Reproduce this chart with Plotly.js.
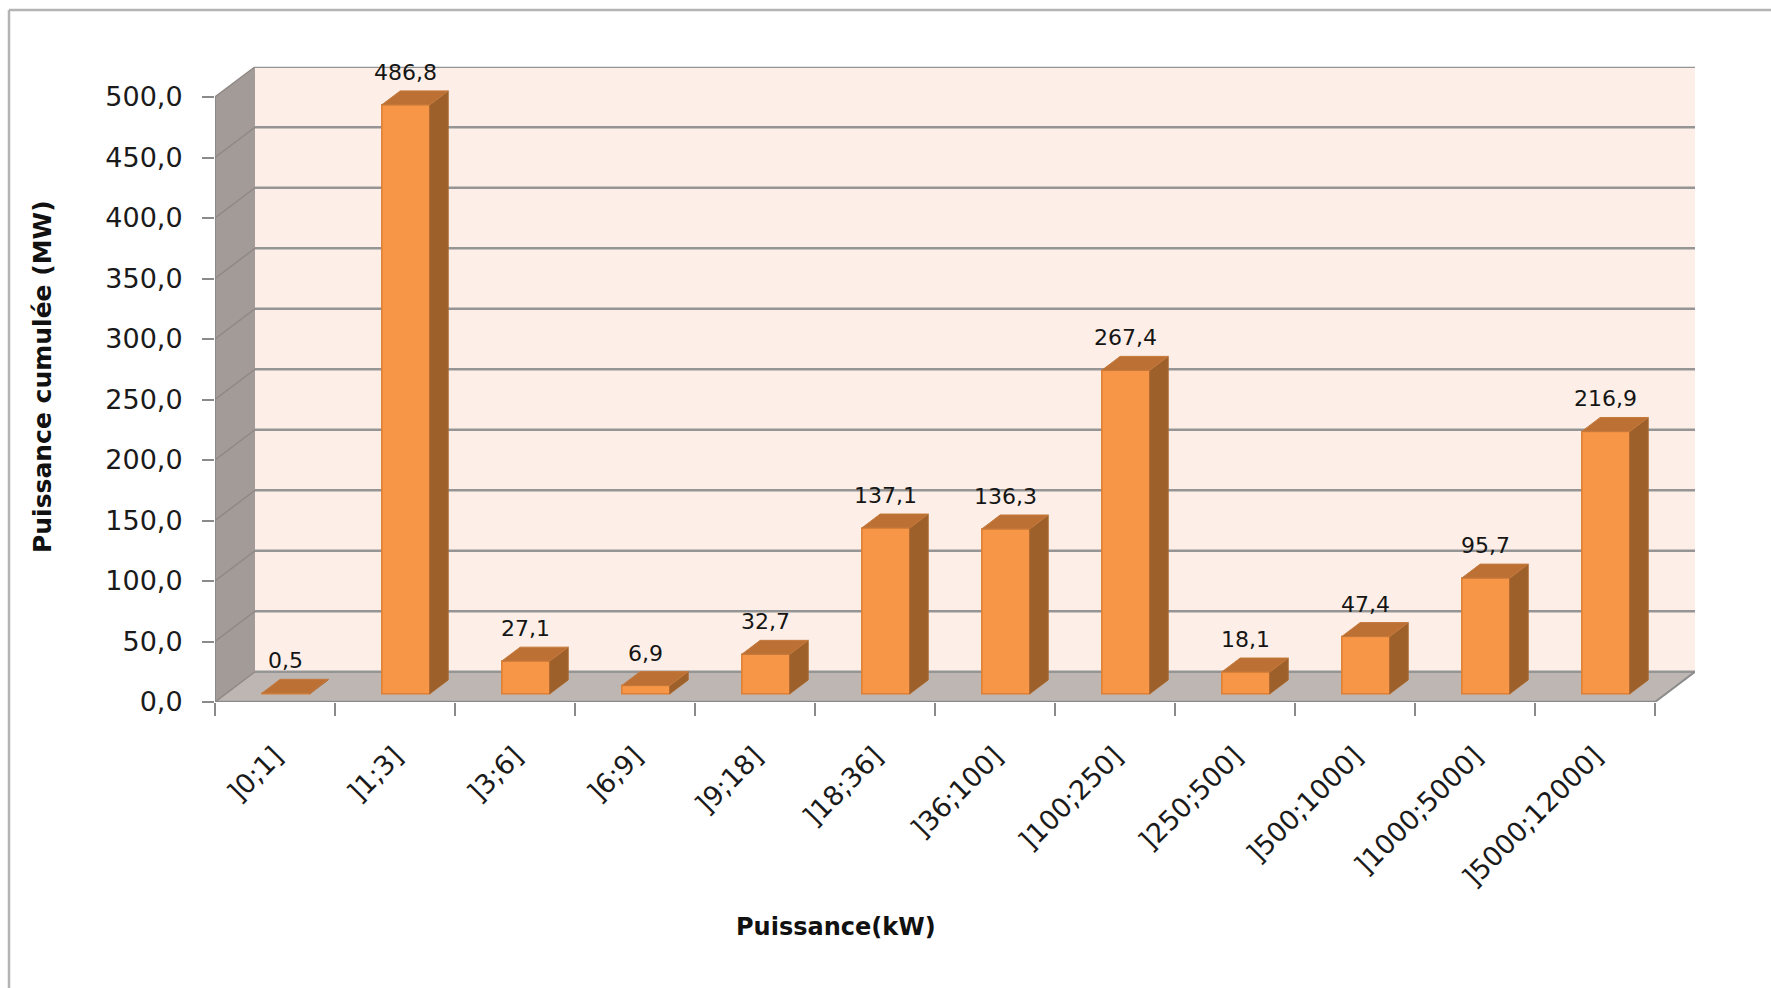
<!DOCTYPE html>
<html><head><meta charset="utf-8">
<script src="https://cdn.plot.ly/plotly-3.0.1.min.js"></script>
<style>html,body{margin:0;padding:0;background:#fff}#chart{width:1771px;height:988px}</style>
</head><body><div id="chart"></div>
<script>
// ---- data ----
const categories = [']0;1]', ']1;3]', ']3;6]', ']6;9]', ']9;18]', ']18;36]', ']36;100]', ']100;250]', ']250;500]', ']500;1000]', ']1000;5000]', ']5000;12000]'];
const values = [0.5, 486.8, 27.1, 6.9, 32.7, 137.1, 136.3, 267.4, 18.1, 47.4, 95.7, 216.9];
const valueLabels = ['0,5', '486,8', '27,1', '6,9', '32,7', '137,1', '136,3', '267,4', '18,1', '47,4', '95,7', '216,9'];
const yTickVals = [0, 50, 100, 150, 200, 250, 300, 350, 400, 450, 500];
const yTickText = ['0,0', '50,0', '100,0', '150,0', '200,0', '250,0', '300,0', '350,0', '400,0', '450,0', '500,0'];
const xTitle = 'Puissance(kW)';
const yTitle = 'Puissance cumulée (MW)';

// ---- geometry / style ----
const W = 1771, H = 988;
const DX = 1 / 3, DY = 25;        // depth of the 3D box, in axis units
const F1 = 0.27, F2 = 0.73;       // bar front / back depth fractions
const BAR_W = 0.4;
const N = categories.length;
const YMAX = 500;
const xMin = -0.5, xMax = N - 0.5;
const FONT = 'DejaVu Sans';
const GRID = '#959595';

const shapes = [];
// back wall
shapes.push({type: 'rect', xref: 'x', yref: 'y', x0: xMin + DX, x1: xMax + DX, y0: DY, y1: YMAX + DY,
  fillcolor: '#FDEFE7', line: {width: 0}, layer: 'below'});
// left wall
shapes.push({type: 'path', xref: 'x', yref: 'y',
  path: `M${xMin},0 L${xMin},${YMAX} L${xMin + DX},${YMAX + DY} L${xMin + DX},${DY} Z`,
  fillcolor: '#A39B97', line: {width: 0}, layer: 'below'});
// floor
shapes.push({type: 'path', xref: 'x', yref: 'y',
  path: `M${xMin},0 L${xMax},0 L${xMax + DX},${DY} L${xMin + DX},${DY} Z`,
  fillcolor: '#BEB6B3', line: {width: 0}, layer: 'below'});
// gridlines on back wall and left wall
yTickVals.forEach(v => {
  shapes.push({type: 'line', xref: 'x', yref: 'y', x0: xMin + DX, x1: xMax + DX, y0: v + DY, y1: v + DY,
    line: {color: GRID, width: 2.5}, layer: 'below'});
  shapes.push({type: 'line', xref: 'x', yref: 'y', x0: xMin, x1: xMin + DX, y0: v, y1: v + DY,
    line: {color: '#8f8885', width: 1.5}, layer: 'below'});
});
// axis lines + floor edge
shapes.push({type: 'line', xref: 'x', yref: 'y', x0: xMin, x1: xMin, y0: 0, y1: YMAX, line: {color: '#8a8a8a', width: 2}, layer: 'below'});
shapes.push({type: 'line', xref: 'x', yref: 'y', x0: xMin, x1: xMax, y0: 0, y1: 0, line: {color: '#8a8a8a', width: 2.5}, layer: 'below'});
shapes.push({type: 'line', xref: 'x', yref: 'y', x0: xMax, x1: xMax + DX, y0: 0, y1: DY, line: {color: '#8a8a8a', width: 2}, layer: 'below'});

// bar top and side faces
const ddx = (F2 - F1) * DX, ddy = (F2 - F1) * DY;
values.forEach((v, i) => {
  const xl = i - BAR_W / 2 + F1 * DX, xr = xl + BAR_W;
  const yb = F1 * DY, yt = v + F1 * DY;
  shapes.push({type: 'path', xref: 'x', yref: 'y',
    path: `M${xr},${yb} L${xr},${yt} L${xr + ddx},${yt + ddy} L${xr + ddx},${yb + ddy} Z`,
    fillcolor: '#9E602B', line: {color: '#A7672F', width: 1}, layer: 'above'});
  shapes.push({type: 'path', xref: 'x', yref: 'y',
    path: `M${xl},${yt} L${xr},${yt} L${xr + ddx},${yt + ddy} L${xl + ddx},${yt + ddy} Z`,
    fillcolor: '#BD7033', line: {color: '#C47A3E', width: 1}, layer: 'above'});
});

// outer chart frame (left + top)
shapes.push({type: 'line', xref: 'paper', yref: 'paper', x0: 9 / W, x1: 9 / W, y0: 0, y1: (H - 10) / H, line: {color: '#b4b4b4', width: 2.5}});
shapes.push({type: 'line', xref: 'paper', yref: 'paper', x0: 9 / W, x1: 1, y0: (H - 10) / H, y1: (H - 10) / H, line: {color: '#b4b4b4', width: 2.5}});

// value labels
const annotations = values.map((v, i) => ({
  xref: 'x', yref: 'y', x: i + F1 * DX, y: v + F2 * DY, text: valueLabels[i],
  showarrow: false, xanchor: 'center', yanchor: 'bottom', yshift: 4,
  font: {family: FONT, size: 22, color: '#151515'}
}));
annotations.push({xref: 'paper', yref: 'paper', x: 836 / W, y: (H - 927) / H, text: '<b>' + xTitle + '</b>',
  showarrow: false, xanchor: 'center', yanchor: 'middle', font: {family: FONT, size: 24, color: '#111'}});
annotations.push({xref: 'paper', yref: 'paper', x: 43 / W, y: (H - 377) / H, text: '<b>' + yTitle + '</b>',
  showarrow: false, xanchor: 'center', yanchor: 'middle', textangle: -90, font: {family: FONT, size: 25, color: '#111'}});

const trace = {
  type: 'bar', x: categories, y: values, base: F1 * DY,
  offset: -BAR_W / 2 + F1 * DX, width: BAR_W,
  marker: {color: '#F79646', line: {color: '#DE7F33', width: 1.5}},
  hoverinfo: 'skip'
};

const pxPerVal = 605 / 500;
const yTopPx = 702 - (YMAX + DY) * pxPerVal;

const layout = {
  width: W, height: H,
  margin: {l: 0, r: 0, t: 0, b: 0},
  paper_bgcolor: '#ffffff', plot_bgcolor: 'rgba(0,0,0,0)',
  showlegend: false,
  xaxis: {
    type: 'category', domain: [215 / W, 1695 / W], range: [xMin, xMax + DX],
    showgrid: false, zeroline: false, showline: false,
    ticks: 'outside', tickson: 'boundaries', ticklen: 13, tickwidth: 2, tickcolor: '#8a8a8a',
    tickangle: -45, ticklabelstandoff: 32, ticklabelshift: 0,
    tickfont: {family: FONT, size: 27, color: '#1a1a1a'}, fixedrange: true
  },
  yaxis: {
    domain: [(H - 702) / H, (H - yTopPx) / H], range: [0, YMAX + DY],
    showgrid: false, zeroline: false, showline: false,
    tickmode: 'array', tickvals: yTickVals, ticktext: yTickText,
    ticks: 'outside', ticklen: 12, tickwidth: 2, tickcolor: '#8a8a8a', ticklabelstandoff: 14,
    tickfont: {family: FONT, size: 27, color: '#1a1a1a'}, fixedrange: true
  },
  shapes: shapes,
  annotations: annotations
};

Plotly.newPlot('chart', [trace], layout, {displayModeBar: false, staticPlot: true});
</script>
</body></html>
